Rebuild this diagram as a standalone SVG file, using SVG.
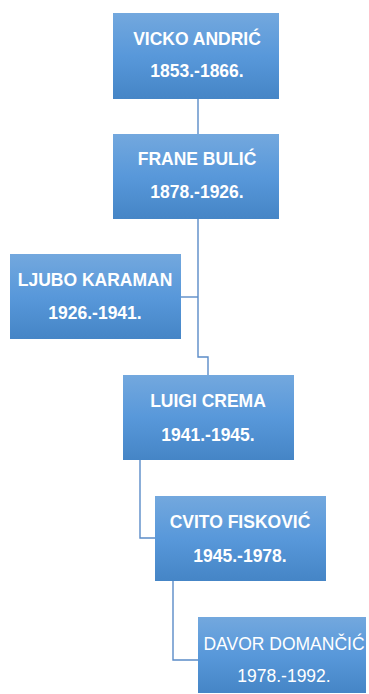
<svg xmlns="http://www.w3.org/2000/svg" width="369" height="694" viewBox="0 0 369 694">
<defs>
<linearGradient id="g" x1="0" y1="0" x2="0" y2="1">
<stop offset="0" stop-color="#73a8de"/>
<stop offset="0.5" stop-color="#5898da"/>
<stop offset="1" stop-color="#4585c6"/>
</linearGradient>
<style>
.box{fill:url(#g);}
.t{font-family:"Liberation Sans",Arial,sans-serif;font-size:17.5px;font-weight:bold;fill:#ffffff;text-anchor:middle;}
.n{font-weight:normal;font-size:17.5px;}
.c{fill:none;stroke:#5b8cc8;stroke-width:1.4;}
</style>
</defs>
<g id="connectors">
<path class="c" d="M198 99 V134"/>
<path class="c" d="M198 219 V357 H208 V375"/>
<path class="c" d="M181 297 H198"/>
<path class="c" d="M140 460 V538 H155"/>
<path class="c" d="M173 581 V660 H198"/>
</g>
<g id="vicko">
<rect class="box" x="113" y="13" width="166" height="86"/>
<text class="t" x="197" y="45">VICKO ANDRIĆ</text>
<text class="t" x="197" y="77">1853.-1866.</text>
</g>
<g id="frane">
<rect class="box" x="113" y="134" width="166" height="85"/>
<text class="t" x="197" y="165">FRANE BULIĆ</text>
<text class="t" x="197" y="198">1878.-1926.</text>
</g>
<g id="ljubo">
<rect class="box" x="10" y="254" width="171" height="85"/>
<text class="t" x="95" y="286">LJUBO KARAMAN</text>
<text class="t" x="95" y="319">1926.-1941.</text>
</g>
<g id="luigi">
<rect class="box" x="123" y="375" width="171" height="85"/>
<text class="t" x="208" y="407">LUIGI CREMA</text>
<text class="t" x="208" y="441">1941.-1945.</text>
</g>
<g id="cvito">
<rect class="box" x="155" y="496" width="171" height="85"/>
<text class="t" x="240" y="528">CVITO FISKOVIĆ</text>
<text class="t" x="240" y="562">1945.-1978.</text>
</g>
<g id="davor">
<rect class="box" x="198" y="617" width="168" height="76"/>
<text class="t n" x="284" y="650">DAVOR DOMANČIĆ</text>
<text class="t n" x="284" y="682">1978.-1992.</text>
</g>
</svg>
